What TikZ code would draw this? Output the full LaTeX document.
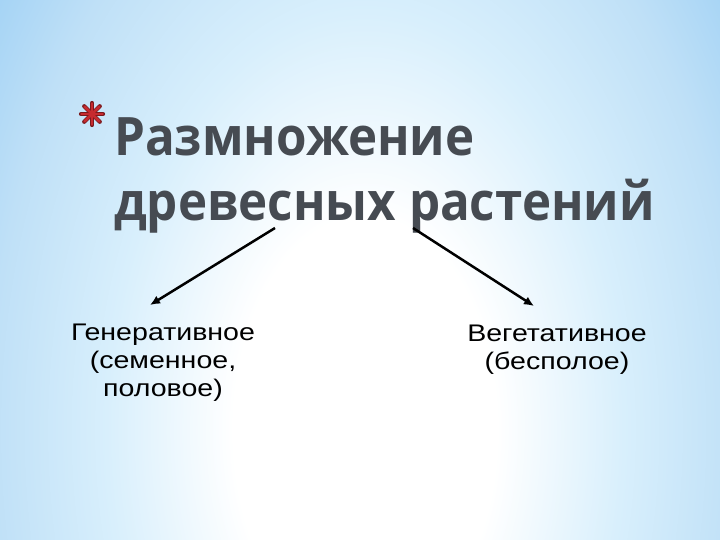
\documentclass[tikz,border=0pt]{standalone}
\usepackage{fontspec}
\setmainfont{Liberation Sans}
\newfontfamily\titlefont[FakeStretch=0.93]{Open Sans}
\newfontfamily\lblfont[FakeStretch=1.19]{Liberation Sans}
\usetikzlibrary{arrows.meta}
\definecolor{edgeblue}{HTML}{A6D4F5}
\definecolor{midblue}{HTML}{BFE0F7}
\definecolor{lightblue}{HTML}{D8EFFC}
\definecolor{titlegray}{HTML}{464B52}
\definecolor{starred}{HTML}{C62A2F}
\definecolor{stardark}{HTML}{7A1A1E}
% radial shading: on a path, its 50bp square is fitted to the path's bounding box (r=1 <-> 25bp)
\pgfdeclareradialshading{bgshade}{\pgfpoint{0bp}{0bp}}{color(0bp)=(white);color(7bp)=(white);color(13.75bp)=(lightblue);color(20bp)=(midblue);color(24bp)=(edgeblue);color(50bp)=(edgeblue)}
\tikzset{
  titletxt/.style={font=\titlefont\bfseries\fontsize{53}{64}\selectfont, text=titlegray, inner sep=0pt},
  lbl/.style={font=\lblfont\fontsize{24}{27.6}\selectfont, align=center, inner sep=0pt, text=black},
  conn/.style={draw=black, line width=2.5pt, -{Latex[length=10pt,width=9pt]}},
}
\begin{document}
\begin{tikzpicture}[x=1pt,y=-1pt]
\useasboundingbox (0,0) rectangle (720,540);
\fill[edgeblue] (0,0) rectangle (720,540);
\begin{scope}
\clip (0,0) rectangle (720,540);
\shade[shading=bgshade] (365,430) ellipse [x radius=470, y radius=760];
\end{scope}
% asterisk
\foreach \a in {0,45,...,315} \draw[stardark, line width=4.2pt, line cap=round] (92,114) -- ++(\a:11);
\foreach \a in {0,45,...,315} \draw[starred, line width=2.6pt, line cap=round] (92,114) -- ++(\a:10.5);
% title
\node[titletxt, anchor=base west] (t1) at (114,156) {Размножение};
\node[titletxt, anchor=base west] (t2) at (114,221) {древесных растений};
% labels (anchor base = baseline of the last line)
\node[lbl, anchor=base] (gen) at (163,396) {Генеративное\\(семенное,\\половое)};
\node[lbl, anchor=base] (veg) at (557,369.5) {Вегетативное\\(бесполое)};
% connector ends
\coordinate (ls) at (275,228);
\coordinate (rs) at (413,228);
\coordinate (le) at (150,305);
\coordinate (re) at (534,306);
\draw[conn] (ls) -- (le);
\draw[conn] (rs) -- (re);
\end{tikzpicture}
\end{document}
